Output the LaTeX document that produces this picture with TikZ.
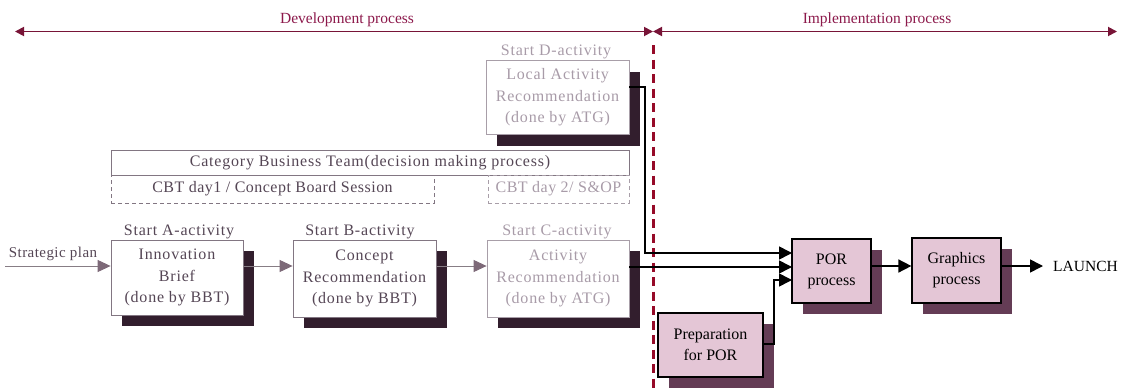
\documentclass[tikz,border=0pt]{standalone}
\usepackage{fontspec}
\setmainfont{Liberation Serif}
\newfontfamily\wideserif[LetterSpace=5]{Liberation Serif}
\newfontfamily\midserif[LetterSpace=3]{Liberation Serif}
\usetikzlibrary{arrows.meta,shadows,calc}

\definecolor{phaseline}{RGB}{120,20,55}
\definecolor{phasetext}{RGB}{140,25,75}
\definecolor{gateline}{RGB}{150,10,40}
\definecolor{darktext}{RGB}{85,70,85}
\definecolor{fadedtext}{RGB}{168,155,168}
\definecolor{darkedge}{RGB}{130,118,130}
\definecolor{fadededge}{RGB}{168,158,168}
\definecolor{boxshadow}{RGB}{50,30,45}
\definecolor{pinkfill}{RGB}{228,198,214}
\definecolor{pinkshadow}{RGB}{100,60,85}
\definecolor{flowgray}{RGB}{135,125,133}
\definecolor{headgray}{RGB}{125,105,120}

\tikzset{
  activity/.style={draw=darkedge, line width=0.8pt, fill=white, inner sep=0pt,
    align=center, text=darktext, font=\wideserif\fontsize{16}{21.5}\selectfont,
    drop shadow={shadow xshift=11pt, shadow yshift=-11pt, fill=boxshadow, opacity=1}},
  fadedact/.style={activity, draw=fadededge, text=fadedtext},
  startlabel/.style={inner sep=0pt, text=darktext, font=\wideserif\fontsize{16}{18}\selectfont},
  fadedstart/.style={startlabel, text=fadedtext},
  cbtbox/.style={draw=darkedge, line width=0.6pt, inner sep=0pt, text=darktext,
    font=\wideserif\fontsize{16}{18}\selectfont},
  cbtday/.style={draw=darkedge, dashed, dash pattern=on 4pt off 3pt, line width=0.6pt,
    inner sep=0pt, text=darktext, font=\midserif\fontsize{16}{18}\selectfont},
  impl/.style={draw=black, line width=1.2pt, fill=pinkfill, inner sep=0pt, align=center,
    font=\fontsize{16}{21}\selectfont,
    drop shadow={shadow xshift=11pt, shadow yshift=-11pt, fill=pinkshadow, opacity=1}},
  phase/.style={phaseline, line width=1.8pt, {Triangle[length=9pt,width=9pt]}-{Triangle[length=9pt,width=9pt]}},
  phaselabel/.style={inner sep=0pt, text=phasetext, font=\fontsize{15.5}{18}\selectfont},
  grayflow/.style={flowgray, line width=1pt, -{Triangle[length=13pt,width=12pt,fill=headgray,color=headgray]}},
  blackflow/.style={black, line width=1.6pt, -{Triangle[length=13pt,width=13pt]}},
}

\begin{document}
\begin{tikzpicture}[x=1pt,y=-1pt]
\useasboundingbox (0,0) rectangle (1125,388);

% phase arrows along the top
\coordinate (devL) at (15,31.5);
\coordinate (gate) at (653,31.5);
\coordinate (implR) at (1117,31.5);
\draw[phase] (devL) -- (gate);
\draw[phase] (implR) -- (gate);
\node[phaselabel] (devlab) at (347,20) {Development process};
\node[phaselabel] (impllab) at (877,20) {Implementation process};

% boundary between the two processes
\coordinate (gateTop) at (653,45);
\coordinate (gateBot) at (653,388);
\draw[gateline, line width=3pt, dash pattern=on 9pt off 5.5pt] (gateTop) -- (gateBot);

% decision making bands
\node[cbtbox, minimum width=518pt, minimum height=25pt] (cbt) at (370,162.5)
  {Category Business Team(decision making process)};
\node[cbtday, minimum width=323pt, minimum height=28pt] (day1) at (272.5,189)
  {CBT day1 / Concept Board Session};
\node[cbtday, text=fadedtext, draw=fadededge, minimum width=141pt, minimum height=28pt] (day2) at (558.5,189)
  {CBT day 2/ S\&OP};

% activity boxes
\node[activity, minimum width=132pt, minimum height=75pt] (A) at (177,277.5)
  {Innovation\\Brief\\(done by BBT)};
\node[activity, minimum width=143pt, minimum height=77pt] (B) at (364.5,278.5)
  {Concept\\Recommendation\\(done by BBT)};
\node[fadedact, minimum width=142pt, minimum height=77pt] (C) at (558,278.5)
  {Activity\\Recommendation\\(done by ATG)};
\node[fadedact, minimum width=143pt, minimum height=74pt] (D) at (557.5,97.5)
  {Local Activity\\Recommendation\\(done by ATG)};

\node[startlabel] (startA) at (179,232) {Start A-activity};
\node[startlabel] (startB) at (360,232) {Start B-activity};
\node[fadedstart] (startC) at (557,232) {Start C-activity};
\node[fadedstart] (startD) at (556,52) {Start D-activity};

% implementation boxes
\node[impl, minimum width=79pt, minimum height=64pt] (POR) at (831.5,271) {POR\\process};
\node[impl, minimum width=105pt, minimum height=64pt] (prep) at (710.5,345) {Preparation\\for POR};
\node[impl, minimum width=89pt, minimum height=65pt] (gfx) at (956.5,270.5) {Graphics\\process};
\node[inner sep=0pt, anchor=west, font=\fontsize{15.5}{18}\selectfont] (launch) at (1053,266) {LAUNCH};

% development flow
\node[inner sep=0pt, text=darktext, font=\midserif\fontsize{15}{18}\selectfont] (strat) at (53,254) {Strategic plan};
\coordinate (sp) at (5,266);
\draw[grayflow] (sp) -- (sp -| A.west);
\draw[grayflow] (sp -| A.east) -- (sp -| B.west);
\draw[grayflow] (sp -| B.east) -- (sp -| C.west);

% flows into the POR process
\coordinate (dOut) at (629,87);
\coordinate (dTurn) at (645,87);
\coordinate (porTop) at (792,253);
\coordinate (porMid) at (792,267);
\coordinate (porLow) at (792,280);
\coordinate (prepOut) at (763,344);
\coordinate (prepTurn) at (774,344);
\draw[blackflow] (dOut) -- (dTurn) |- (porTop);
\draw[blackflow] (C.east |- porMid) -- (porMid);
\draw[blackflow] (prepOut) -- (prepTurn) |- (porLow);

\draw[blackflow] (POR.east |- launch.west) -- (gfx.west |- launch.west);
\draw[blackflow, shorten >=10pt] (gfx.east |- launch.west) -- (launch.west);
\end{tikzpicture}
\end{document}
